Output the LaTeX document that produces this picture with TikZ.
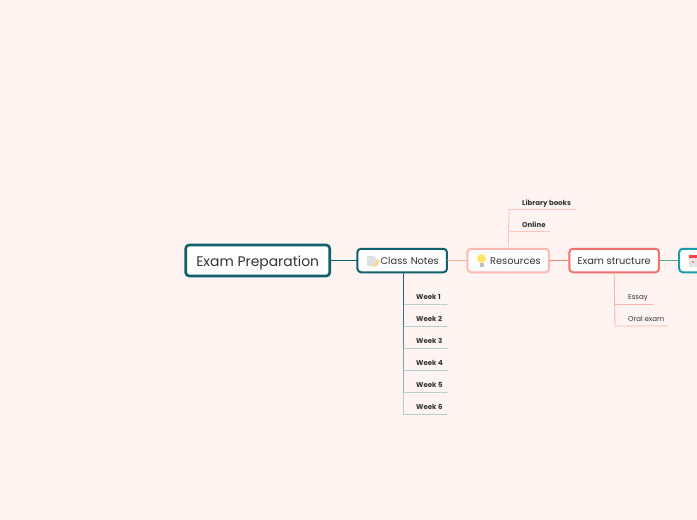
\documentclass[tikz,border=0pt]{standalone}
\usepackage{fontspec}
\setmainfont{Poppins}
\usetikzlibrary{positioning, shadows}

\definecolor{paper}{HTML}{FFF4F1}
\definecolor{inkdark}{HTML}{333333}
\definecolor{tealdark}{HTML}{11606E}
\definecolor{teallight}{HTML}{B4CFCE}
\definecolor{tealmid}{HTML}{1E9CA8}
\definecolor{pinklight}{HTML}{FFB9B1}
\definecolor{coral}{HTML}{F4716A}

\tikzset{
  topic/.style={draw, line width=2pt, fill=white, rounded corners=3.5pt, minimum height=23.5pt,
    text=inkdark, font=\fontsize{9.8}{12}\selectfont, inner sep=0pt, on grid,
    text height=10pt, text depth=2pt,
    drop shadow={shadow xshift=0.6pt, shadow yshift=-0.8pt, opacity=.18}},
  minor/.style={anchor=west, inner sep=0pt, text=inkdark, font=\fontsize{7}{8}\selectfont,
    text height=6pt, text depth=0pt},
  minorbold/.style={minor, font=\fontsize{7}{8}\selectfont\bfseries}
}

\begin{document}
\begin{tikzpicture}[x=1pt, y=-1pt, line cap=round]
    \clip (0,0) rectangle (697,520);
    \fill[paper] (0,0) rectangle (697,520);

    % Topics
    \node[topic, line width=2.6pt, draw=tealdark, minimum width=144pt, minimum height=31pt,
      font=\fontsize{13.9}{16}\selectfont, text height=13pt]           (root)  at (257.7,260.5) {Exam Preparation};
    \node[topic, draw=tealdark, minimum width=89.5pt, right=144.5pt of root, text width=73pt, align=right] (notes) {Class Notes};
    \node[topic, draw=pinklight, minimum width=81.5pt, right=106pt of notes, text width=65pt, align=right] (res)   {Resources};
    \node[topic, draw=coral, minimum width=89.5pt, right=106pt of res]                                     (exam)  {Exam structure};
    \node[topic, draw=tealmid, minimum width=90pt, right=110pt of exam]                                    (last)  {};

    % Icons
    \fill[black!12] (367,256) -- (374,256) -- (378,260) -- (378,266) -- (367,266) -- cycle;
    \fill[yellow!60!orange!70] (373,266) -- (378.5,260) -- (379.5,261) -- (374,267) -- cycle;
    \fill[yellow!75!orange!60] (481.5,258.5) circle (4.4pt);
    \fill[black!25] (479.5,263) rectangle (483.5,267);
    \fill[black!10] (688.5,255) rectangle (697,267);
    \fill[red!75!white] (688.5,255) rectangle (697,258);
    \fill[red!45!white] (692,261) rectangle (694,263);

    % Main links
    \draw[tealdark, line width=1pt] (root) -- (notes);
    \draw[pinklight!80!coral, line width=1pt] (notes) -- (res);
    \draw[coral!75!pinklight, line width=1pt] (res) -- (exam);
    \draw[tealmid!60!green!70!black!70, line width=1pt] (exam) -- (last);

    % Weeks
    \coordinate (wtop) at (403,273);
    \foreach \n/\y/\m in {1/296/95, 2/318/85, 3/340/70, 4/362/55, 5/384/42, 6/406/30} {
      \node[minorbold] (week\n) at (416,\y) {Week \n};
      \coordinate (wa\n) at (403,\y+8);
      \coordinate (wb\n) at (447,\y+8);
      \draw[teallight, line width=1pt] (wa\n) -- (wb\n);
      \draw[tealdark!\m!paper, line width=1pt] (wtop) -- (wa\n);
      \coordinate (wtop) at (wa\n);
    }

    % Resources
    \node[minorbold] (lib) at (522,202) {Library books};
    \node[minorbold] (onl) at (522,224) {Online};
    \coordinate (la) at (509,209.5);
    \coordinate (lb) at (576,209.5);
    \coordinate (oa) at (509,231.5);
    \coordinate (ob) at (550,231.5);
    \draw[pinklight!80!paper, line width=.9pt] (res.north) -- (la) -- (lb);
    \draw[pinklight!80!paper, line width=.9pt] (oa) -- (ob);

    % Exam structure
    \node[minor] (essay) at (628,296) {Essay};
    \node[minor] (oral)  at (628,318) {Oral exam};
    \coordinate (ea) at (615,304);
    \coordinate (eb) at (653,304);
    \coordinate (ra) at (615,326);
    \coordinate (rb) at (668,326);
    \draw[coral!50!paper, line width=.9pt] (exam.south) -- (ra) -- (rb);
    \draw[coral!50!paper, line width=.9pt] (ea) -- (eb);
\end{tikzpicture}
\end{document}
